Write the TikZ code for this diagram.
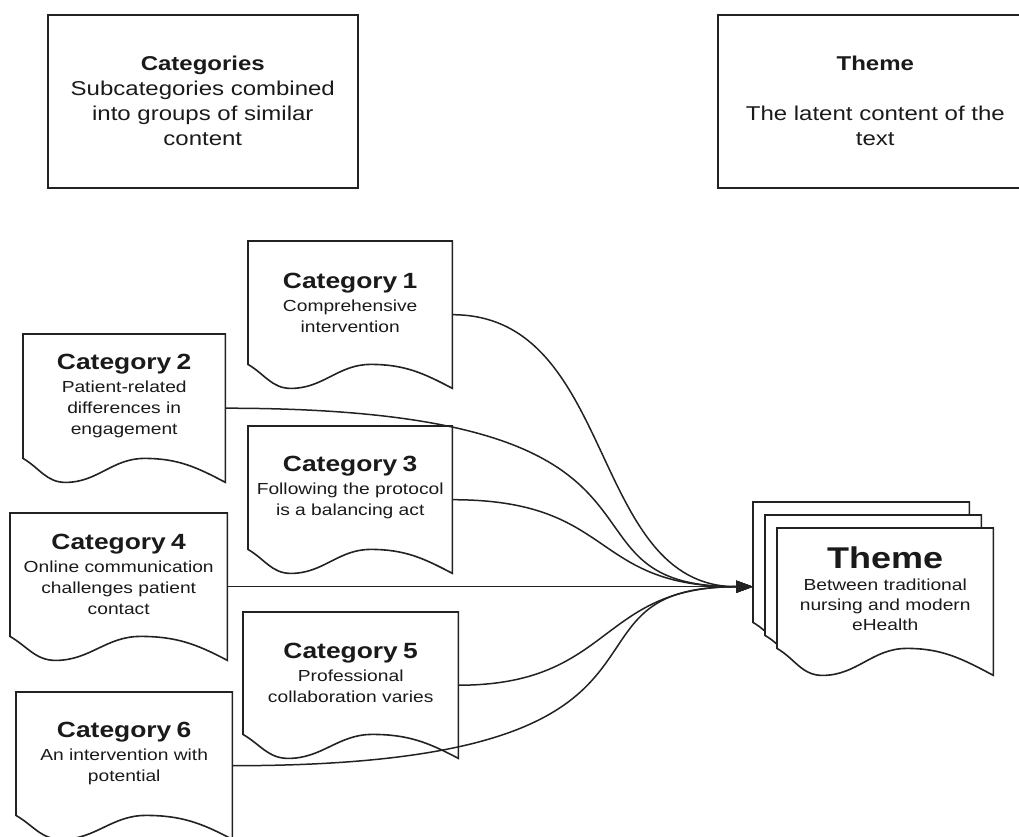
\documentclass[tikz,border=0pt]{standalone}
\usepackage{fontspec}
\setmainfont[FakeStretch=1.2]{Liberation Sans}
\usetikzlibrary{calc,arrows.meta}

\definecolor{ink}{HTML}{222222}
\definecolor{txt}{HTML}{1A1A1A}

\tikzset{
  docbox/.style={draw=none, inner sep=0pt, anchor=north west},
  docline/.style={draw=ink, line width=1.6pt, fill=white, line join=miter},
  topbox/.style={draw=ink, line width=1.6pt, inner sep=0pt, anchor=north west,
    align=center, text width=300pt, text=txt, font=\fontsize{20}{25}\selectfont},
  doctext/.style={align=center, text width=200pt, inner sep=0pt, text=txt,
    font=\fontsize{16}{21}\selectfont},
  link/.style={draw=ink, line width=1.5pt, -{Triangle[length=17pt,width=12pt]}},
}

% outline of a "document" shape: flat top, wavy bottom of amplitude #2
\newcommand\docoutline[2]{%
  \path[docline] (#1.north west) -- (#1.north east) -- (#1.south east)
    to[out=152,in=0] ($(#1.south west)!0.6!(#1.south east)+(0,#2)$)
    to[out=180,in=0] ($(#1.south west)!0.21!(#1.south east)$)
    to[out=180,in=-30] ($(#1.south west)+(0,#2)$) -- cycle;}

\newcommand\ttl{\fontsize{22}{24}\selectfont\bfseries}

\begin{document}
\begin{tikzpicture}[x=1pt,y=1pt]
\useasboundingbox (0,0) rectangle (1019,-836);
\clip (0,0) rectangle (1019,-836);

% legend boxes
\node[topbox, minimum width=310pt, minimum height=173pt] (legcat) at (47,-14)
  {{\bfseries Categories}\\ Subcategories combined\\ into groups of similar\\ content};
\node[topbox, minimum width=315pt, minimum height=173pt] (legtheme) at (717,-14)
  {{\bfseries Theme}\\[25pt] The latent content of the\\ text};

% category documents
\node[docbox, minimum width=204pt, minimum height=147pt] (c1) at (248,-241) {};
\node[docbox, minimum width=202pt, minimum height=148pt] (c2) at (23,-334) {};
\node[docbox, minimum width=204pt, minimum height=147pt] (c3) at (248,-426) {};
\node[docbox, minimum width=217pt, minimum height=147pt] (c4) at (10,-513) {};
\node[docbox, minimum width=215pt, minimum height=146pt] (c5) at (243,-612) {};
\node[docbox, minimum width=216pt, minimum height=147pt] (c6) at (16,-692) {};
\foreach \n in {c1,c2,c3,c4,c5,c6} {\docoutline{\n}{24}}

\node[doctext] (c1t) at ($(c1.center)+(0,12)$) {{\ttl Category 1}\\[2pt] Comprehensive\\ intervention};
\node[doctext] (c2t) at ($(c2.center)+(0,12)$) {{\ttl Category 2}\\[2pt] Patient-related\\ differences in\\ engagement};
\node[doctext] (c3t) at ($(c3.center)+(0,12)$) {{\ttl Category 3}\\[2pt] Following the protocol\\ is a balancing act};
\node[doctext] (c4t) at ($(c4.center)+(0,12)$) {{\ttl Category 4}\\[2pt] Online communication\\ challenges patient\\ contact};
\node[doctext] (c5t) at ($(c5.center)+(0,12)$) {{\ttl Category 5}\\[2pt] Professional\\ collaboration varies};
\node[doctext] (c6t) at ($(c6.center)+(0,12)$) {{\ttl Category 6}\\[2pt] An intervention with\\ potential};

% theme: stacked documents
\node[docbox, minimum width=216pt, minimum height=147pt] (thb) at (753,-502) {};
\node[docbox, minimum width=216pt, minimum height=147pt] (thm) at (765,-515) {};
\node[docbox, minimum width=216pt, minimum height=147pt] (thf) at (777,-528) {};
\foreach \n in {thb,thm,thf} {\docoutline{\n}{27}}
\node[doctext, font=\fontsize{16}{20}\selectfont] (thft) at ($(thf.center)+(0,13)$)
  {{\fontsize{30}{32}\selectfont\bfseries Theme}\\[2pt] Between traditional\\ nursing and modern\\ eHealth};

% connectors
\coordinate (tip) at (thb.west |- c4.east);
\draw[link] (c1.east) .. controls +(165,0) and +(-165,0) .. (tip);
\draw[link] (c3.east) .. controls +(165,0) and +(-165,0) .. (tip);
\draw[link] (c5.east) .. controls +(155,0) and +(-155,0) .. (tip);
\draw[link] (c2.east) .. controls +(500,0) and +(-220,0) .. (tip);
\draw[link] (c6.east) .. controls +(500,0) and +(-220,0) .. (tip);
\draw[link] (c4.east) -- (tip);
\end{tikzpicture}
\end{document}
